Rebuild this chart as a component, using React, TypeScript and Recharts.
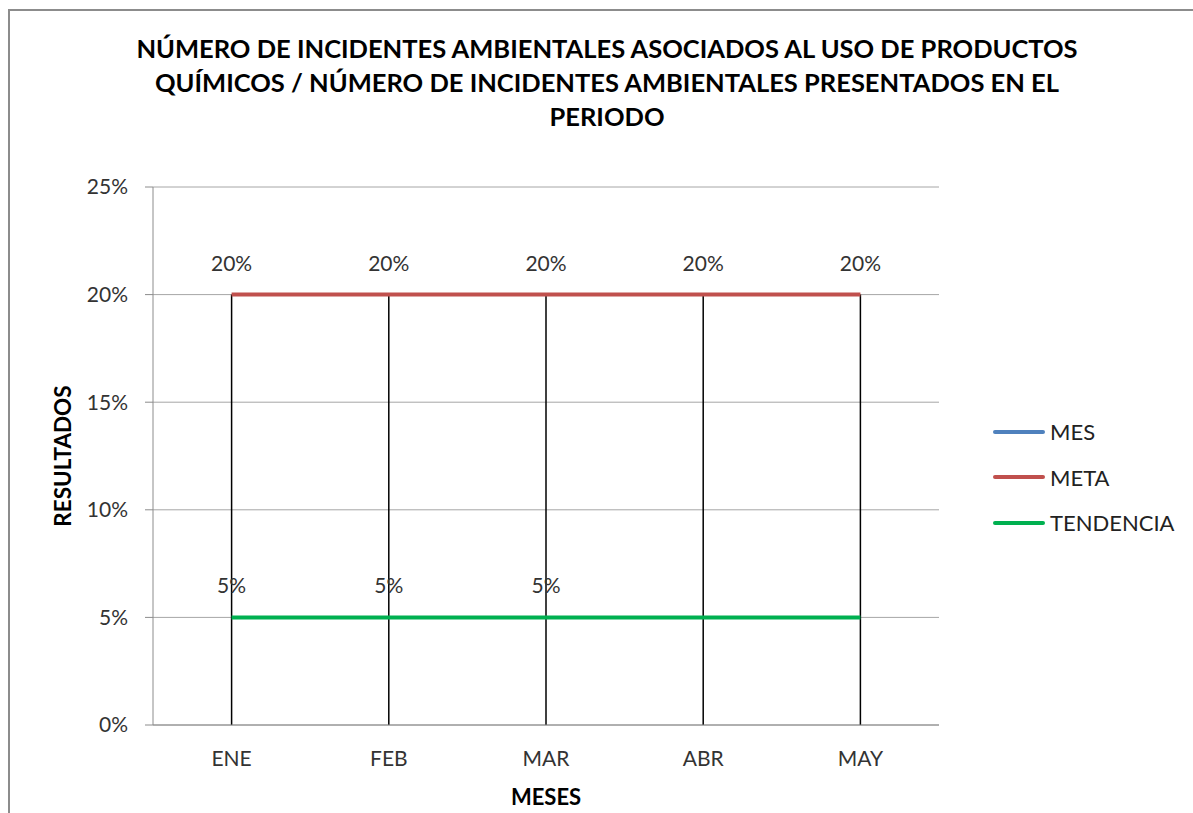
import { LineChart, Line, XAxis, YAxis, CartesianGrid, ReferenceLine, LabelList } from 'recharts';

const months = ['ENE', 'FEB', 'MAR', 'ABR', 'MAY'];
const mes: (number | null)[] = [null, null, null, null, null];
const meta = [0.2, 0.2, 0.2, 0.2, 0.2];
const tendencia = [0.05, 0.05, 0.05, 0.05, 0.05];
const tendenciaLabels = ['5%', '5%', '5%', '', ''];
const yTicks = [0, 0.05, 0.1, 0.15, 0.2, 0.25];

const titleLines = [
  'NÚMERO DE INCIDENTES AMBIENTALES ASOCIADOS AL USO DE PRODUCTOS',
  'QUÍMICOS / NÚMERO DE INCIDENTES AMBIENTALES PRESENTADOS EN EL',
  'PERIODO',
];

const series = [
  { key: 'mes', name: 'MES', color: '#4F81BD' },
  { key: 'meta', name: 'META', color: '#C0504D' },
  { key: 'tendencia', name: 'TENDENCIA', color: '#00B050' },
];

const data = months.map((m, i) => ({
  month: m,
  mes: mes[i],
  meta: meta[i],
  tendencia: tendencia[i],
  tendLabel: tendenciaLabels[i],
}));

// drop lines go from the axis up to the highest value of each month
const dropTops = months.map((_, i) => Math.max(meta[i], tendencia[i], mes[i] ?? 0));

const FONT = 'Lato, "Open Sans", sans-serif';
const pct = (v: number) => `${Math.round(v * 100)}%`;

export default function App() {
  return (
    <div style={{ position: 'fixed', left: 0, top: 0, width: 1193, height: 813, overflow: 'hidden', background: '#fff' }}>
      <div
        style={{
          position: 'absolute',
          left: 8,
          top: 9,
          width: 1220,
          height: 840,
          borderLeft: '2px solid #8c8c8c',
          borderTop: '2px solid #8c8c8c',
          fontFamily: FONT,
        }}
      >
        <div
          style={{
            position: 'absolute',
            left: 0,
            top: 20,
            width: 1194,
            textAlign: 'center',
            fontWeight: 700,
            fontSize: 25.5,
            lineHeight: '34px',
            color: '#000',
          }}
        >
          {titleLines.map((t) => (
            <div key={t}>{t}</div>
          ))}
        </div>

        <LineChart width={1183} height={802} data={data} margin={{ top: 176, right: 254, bottom: 28, left: 0 }}>
          <CartesianGrid vertical={false} stroke="#a6a6a6" />
          <XAxis
            dataKey="month"
            scale="point"
            padding={{ left: 78.6, right: 78.6 }}
            height={60}
            stroke="#8c8c8c"
            tickLine={false}
            tickSize={0}
            tickMargin={26}
            tick={{ fill: '#333', fontSize: 21, fontFamily: FONT }}
            label={({ viewBox }: any) => (
              <text
                x={viewBox.x + viewBox.width / 2}
                y={viewBox.y + 80}
                textAnchor="middle"
                fontWeight={700}
                fontSize={22}
                fontFamily={FONT}
                fill="#000"
              >
                MESES
              </text>
            )}
          />
          <YAxis
            width={143}
            domain={[0, 0.25]}
            ticks={yTicks}
            tickFormatter={pct}
            stroke="#8c8c8c"
            tickSize={8}
            tickMargin={17}
            tick={{ fill: '#333', fontSize: 21, fontFamily: FONT }}
            label={({ viewBox }: any) => {
              const x = viewBox.x + 52;
              const y = viewBox.y + viewBox.height / 2;
              return (
                <text
                  x={x}
                  y={y}
                  transform={`rotate(-90 ${x} ${y})`}
                  textAnchor="middle"
                  dominantBaseline="central"
                  fontWeight={700}
                  fontSize={22.5}
                  fontFamily={FONT}
                  fill="#000"
                >
                  RESULTADOS
                </text>
              );
            }}
          />
          {months.map((m, i) => (
            <ReferenceLine
              key={m}
              segment={[
                { x: m, y: 0 },
                { x: m, y: dropTops[i] },
              ]}
              stroke="#000"
              strokeWidth={1.5}
            />
          ))}
          <Line dataKey="mes" stroke="#4F81BD" strokeWidth={4} dot={false} isAnimationActive={false} />
          <Line dataKey="meta" stroke="#C0504D" strokeWidth={4} dot={false} isAnimationActive={false}>
            <LabelList
              dataKey="meta"
              position="top"
              offset={24}
              formatter={(v: any) => pct(Number(v))}
              fill="#333"
              fontSize={21}
              fontFamily={FONT}
            />
          </Line>
          <Line dataKey="tendencia" stroke="#00B050" strokeWidth={4} dot={false} isAnimationActive={false}>
            <LabelList dataKey="tendLabel" position="top" offset={24} fill="#333" fontSize={21} fontFamily={FONT} />
          </Line>
        </LineChart>

        <div style={{ position: 'absolute', left: 983, top: 398 }}>
          {series.map((s) => (
            <div key={s.key} style={{ display: 'flex', alignItems: 'center', height: 45.5 }}>
              <div style={{ width: 52, height: 4, borderRadius: 2, background: s.color }} />
              <span style={{ marginLeft: 5, fontSize: 22, color: '#222' }}>{s.name}</span>
            </div>
          ))}
        </div>
      </div>
    </div>
  );
}
